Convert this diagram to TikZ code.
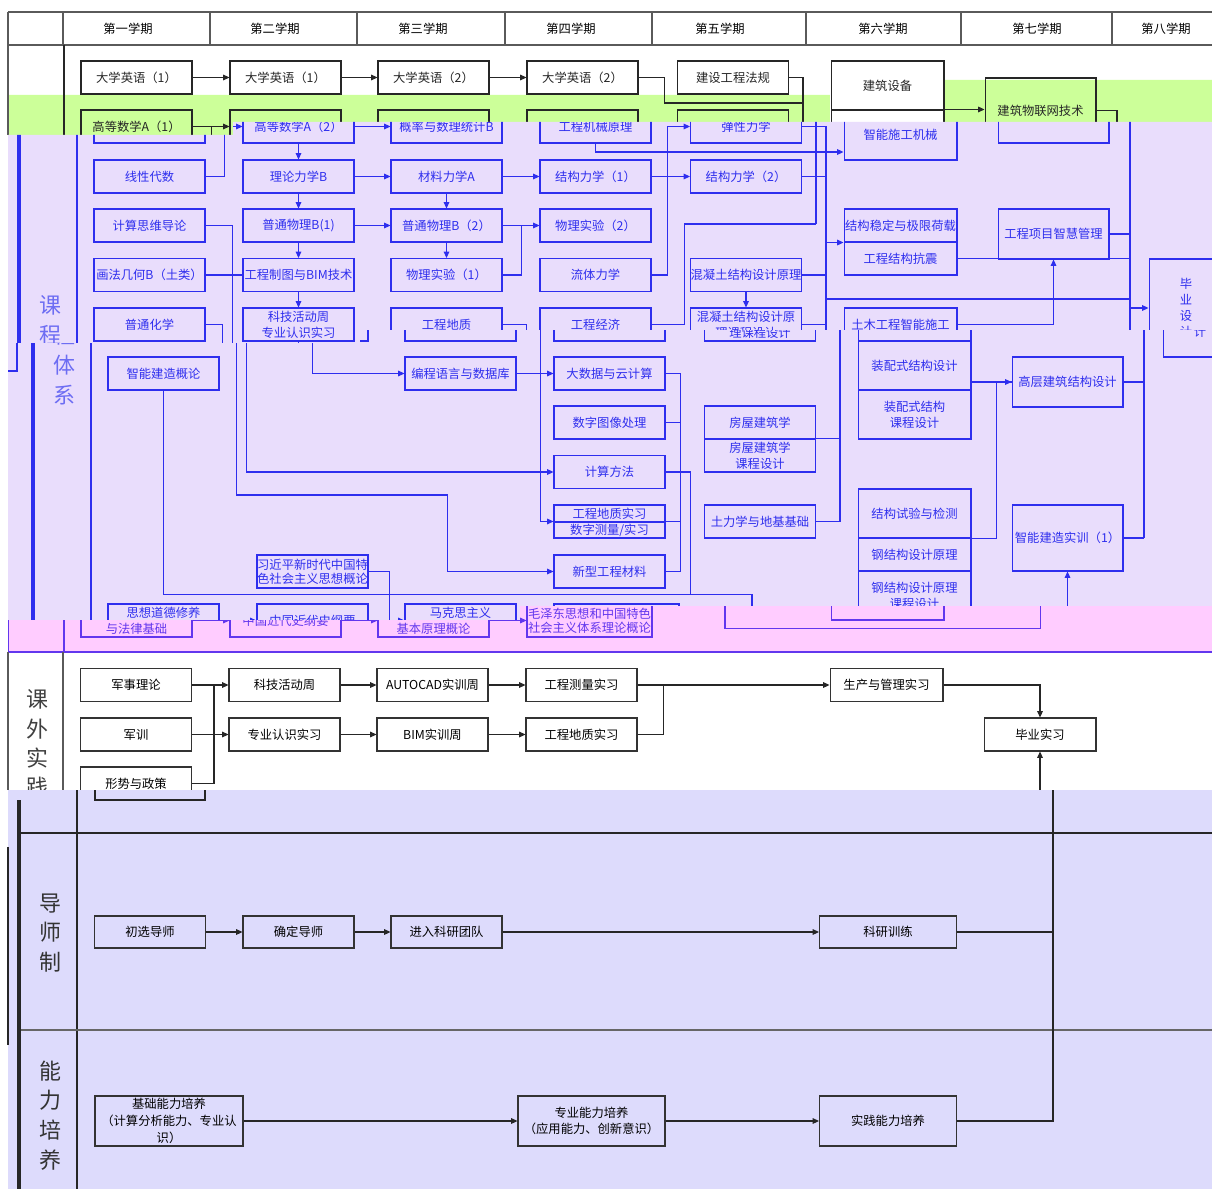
\documentclass[tikz,border=0pt]{standalone}
\usepackage{fontspec}
\setmainfont{Noto Sans CJK SC}
\usetikzlibrary{arrows.meta}
\definecolor{lavcolor}{HTML}{E9DDFC}
\definecolor{pinkcolor}{HTML}{FFCCFF}
\definecolor{greencolor}{HTML}{CCFF99}
\definecolor{botcolor}{HTML}{DDDBFC}
\definecolor{bluecolor}{HTML}{2E2EEE}
\definecolor{purplecolor}{HTML}{6236EE}
\definecolor{gridcolor}{HTML}{5A5A5A}
\colorlet{lnc}{black}
\newcommand{\bxf}{\fontsize{7}{9}\selectfont}
% text of a box only in the band where it can be seen
\def\rlo{0}\def\rhi{2000}
\newcommand{\tx}[2]{\ifdim#1pt<\rlo pt\def\txbody{}\else\ifdim#1pt>\rhi pt\def\txbody{}\else\def\txbody{#2}\fi\fi\txbody}

% the course network, drawn once per colour band
\newcommand{\coursenet}{%
  \draw[cline] (77,40) -- (77,660);
  \node[vlbl, text=lnc!70] (kc) at (50,350) {\tx{350}{课\\程\\体\\系}};
  % row 0
  \node[cbox] (eng1) at (149.5,77.5) {\tx{77.5}{大学英语（1）}};
  \node[cbox] (eng2) at (298.5,77.5) {\tx{77.5}{大学英语（1）}};
  \node[cbox] (eng3) at (446.5,77.5) {\tx{77.5}{大学英语（2）}};
  \node[cbox] (eng4) at (595.5,77.5) {\tx{77.5}{大学英语（2）}};
  \node[cbox] (law) at (746,77.5) {\tx{77.5}{建设工程法规}};
  \node[cbox, minimum width=2.26cm, minimum height=0.98cm] (equip) at (900.5,85.5) {\tx{85.5}{建筑设备}};
  \node[cbox, minimum width=2.26cm, minimum height=1cm] (mach) at (900.5,135) {\tx{135}{智能施工机械}};
  \node[cbox, minimum height=1.3cm] (iot) at (1053.5,110.5) {\tx{110.5}{建筑物联网技术}};
  % row 1
  \node[cbox] (math1) at (149.5,126.5) {\tx{118}{高等数学A（1）}};
  \node[cbox] (math2) at (298.5,126.5) {\tx{126.5}{高等数学A（2）}};
  \node[cbox] (prob) at (446.5,126.5) {\tx{126.5}{概率与数理统计B}};
  \node[cbox] (mech) at (595.5,126.5) {\tx{126.5}{工程机械原理}};
  \node[cbox] (elast) at (746,126.5) {\tx{126.5}{弹性力学}};
  % row 2
  \node[cbox] (linalg) at (149.5,176.5) {\tx{176.5}{线性代数}};
  \node[cbox] (theo) at (298.5,176.5) {\tx{176.5}{理论力学B}};
  \node[cbox] (matmech) at (446.5,176.5) {\tx{176.5}{材料力学A}};
  \node[cbox] (struct1) at (595.5,176.5) {\tx{176.5}{结构力学（1）}};
  \node[cbox] (struct2) at (746,176.5) {\tx{176.5}{结构力学（2）}};
  % row 3
  \node[cbox] (comp) at (149.5,225.5) {\tx{225.5}{计算思维导论}};
  \node[cbox] (phys1) at (298.5,225.5) {\tx{225.5}{普通物理B(1)}};
  \node[cbox] (phys2) at (446.5,225.5) {\tx{225.5}{普通物理B（2）}};
  \node[cbox] (lab2) at (595.5,225.5) {\tx{225.5}{物理实验（2）}};
  \node[cbox, minimum width=2.26cm] (stab) at (900.5,225.5) {\tx{225.5}{结构稳定与极限荷载}};
  \node[cbox, minimum width=2.26cm] (seis) at (900.5,258.5) {\tx{258.5}{工程结构抗震}};
  \node[cbox, minimum height=1cm] (pm) at (1053.5,234) {\tx{234}{工程项目智慧管理}};
  % row 4
  \node[cbox] (geom) at (149.5,275) {\tx{275}{画法几何B（土类）}};
  \node[cbox] (cad) at (298.5,275) {\tx{275}{工程制图与BIM技术}};
  \node[cbox] (lab1) at (446.5,275) {\tx{275}{物理实验（1）}};
  \node[cbox] (fluid) at (595.5,275) {\tx{275}{流体力学}};
  \node[cbox] (rc) at (746,275) {\tx{275}{混凝土结构设计原理}};
  \node[cbox, minimum width=1.48cm, minimum height=1.96cm] (grad) at (1186,308) {\tx{330}{毕\\业\\设\\计}};
  % row 5
  \node[cbox] (chem) at (149.5,324.5) {\tx{324.5}{普通化学}};
  \node[cbox] (week) at (298.5,324.5) {\tx{324.5}{科技活动周\\专业认识实习}};
  \node[cbox] (geo) at (446.5,324.5) {\tx{324.5}{工程地质}};
  \node[cbox] (econ) at (595.5,324.5) {\tx{324.5}{工程经济}};
  \node[cbox] (rcd) at (746,324.5) {\tx{330}{混凝土结构设计原\\理课程设计}};
  \node[cbox, minimum width=2.26cm] (smart) at (900.5,324.5) {\tx{324.5}{土木工程智能施工}};
  \node[cbox, minimum width=2.26cm, minimum height=0.98cm] (prefab) at (900.5,365.5) {\tx{365.5}{装配式结构设计}};
  \node[cbox, minimum width=2.26cm, minimum height=0.98cm] (prefabd) at (900.5,414.5) {\tx{414.5}{装配式结构\\课程设计}};
  % rows 6--9
  \node[cbox] (intro) at (149.5,373.5) {\tx{373.5}{智能建造概论}};
  \node[cbox] (prog) at (446.5,373.5) {\tx{373.5}{编程语言与数据库}};
  \node[cbox] (bigdata) at (595.5,373.5) {\tx{373.5}{大数据与云计算}};
  \node[cbox, minimum height=1cm] (high) at (1053.5,382) {\tx{382}{高层建筑结构设计}};
  \node[cbox] (img) at (595.5,422.5) {\tx{422.5}{数字图像处理}};
  \node[cbox] (house) at (746,422.5) {\tx{422.5}{房屋建筑学}};
  \node[cbox] (housed) at (746,455.5) {\tx{455.5}{房屋建筑学\\课程设计}};
  \node[cbox] (cm) at (595.5,472) {\tx{472}{计算方法}};
  \node[cbox, minimum height=0.34cm] (geoprac) at (595.5,513.5) {\tx{513.5}{工程地质实习}};
  \node[cbox, minimum height=0.32cm] (survey) at (595.5,530) {\tx{530}{数字测量/实习}};
  \node[cbox] (soil) at (746,521.5) {\tx{521.5}{土力学与地基基础}};
  \node[cbox, minimum width=2.26cm, minimum height=0.98cm] (test) at (900.5,513.5) {\tx{513.5}{结构试验与检测}};
  \node[cbox, minimum width=2.26cm] (steel) at (900.5,554.5) {\tx{554.5}{钢结构设计原理}};
  \node[cbox, minimum width=2.26cm, minimum height=0.98cm] (steeld) at (900.5,595.5) {\tx{595.5}{钢结构设计原理\\课程设计}};
  \node[cbox, minimum height=1.32cm] (train) at (1053.5,538) {\tx{538}{智能建造实训（1）}};
  % rows 10--11
  \node[cbox, font=\fontsize{7}{8}\selectfont] (xi) at (298.5,571.5) {\tx{571.5}{习近平新时代中国特\\色社会主义思想概论}};
  \node[cbox] (newmat) at (595.5,571.5) {\tx{571.5}{新型工程材料}};
  \node[cbox] (moral) at (149.5,620.5) {\tx{620.5}{思想道德修养\\与法律基础}};
  \node[cbox] (hist) at (298.5,620.5) {\tx{620.5}{中国近代史纲要}};
  \node[cbox] (marx) at (446.5,620.5) {\tx{620.5}{马克思主义\\基本原理概论}};
  \node[cbox, minimum width=2.5cm, font=\fontsize{7}{8}\selectfont] (mao) at (602.5,620.5) {\tx{625}{毛泽东思想和中国特色\\社会主义体系理论概论}};
  % links
  \draw[carr] (eng1) -- (eng2);
  \draw[carr] (eng2) -- (eng3);
  \draw[carr] (eng3) -- (eng4);
  \coordinate (lawbus) at (816,224);
  \draw[cline] (eng4.east) -- ++(26,0) -- ++(0,25.5) -- ++(139,0);
  \draw[cline] (law.east) -| (lawbus);
  \draw[cline] (econ.east) -- ++(33,0) |- (lawbus);
  \draw[carr] (mach.north east) -- (mach.north east -| iot.west);
  \draw[carr] (math1) -- (math2);
  \draw[carr] (math2) -- (prob);
  \draw[cline] (linalg.east) -- ++(19,0) -- ++(0,-50);
  \draw[carr] (math2) -- (theo);
  \draw[carr] (theo) -- (phys1);
  \draw[carr] (phys1) -- (cad);
  \draw[carr] (cad) -- (week);
  \draw[carr] (theo) -- (matmech);
  \draw[carr] (matmech) -- (struct1);
  \draw[carr] (struct1) -- (struct2);
  \draw[carr] (matmech) -- (phys2);
  \draw[carr] (phys1) -- (phys2);
  \draw[carr] (phys2) -- (lab1);
  \draw[carr] (phys2) -- (lab2);
  \draw[cline] (lab1.east) -- ++(19,0) -- ++(0,-49.5);
  \draw[cline] (geom) -- (cad);
  \draw[carr] (comp.east) -- ++(27,0) |- (cm.west);
  \draw[carr] (chem.east) -- ++(17,0) -- ++(0,170.5) -- ++(211,0) |- (newmat.west);
  \draw[carr] (week.south) |- (prog.west);
  \draw[carr] (prog) -- (bigdata);
  \draw[carr] (mech.south) |- ([yshift=-0.34cm]mach.west);
  \draw[carr] (fluid.east) -- ++(16,0) |- (elast.west);
  \draw[carr] (geo.east) -- ++(24,0) |- (survey.north west);
  \draw[cline] (survey.north east) -- ++(15,0);
  \draw[cline] (bigdata.east) -- ++(15,0) |- (newmat.east);
  \draw[cline] (img.east) -- ++(15,0);
  \draw[cline] (cm.east) -- ++(25,0) -- ++(0,122);
  \draw[carr] (intro.south) -- ++(0,204) -- ++(588.5,0) -- ++(0,34) -| (train.south);
  \draw[cline] (xi.east) -- ++(21,0) -- ++(0,49);
  \draw[carr] (moral) -- (hist);
  \draw[carr] (hist) -- (marx);
  \draw[carr] (marx) -- (mao);
  \draw[carr] (rc) -- (rcd);
  % right-hand buses
  \coordinate (rbusT) at (826,126.5);
  \coordinate (rbusB) at (826,521.5);
  \coordinate (gbusB) at (1130,538);
  \draw[cline] (elast.east) -- (rbusT) -- (rbusB) -- (soil.east);
  \draw[cline] (struct2.east) -- (struct2.east -| rbusT);
  \draw[cline] (rc.east) -- (rc.east -| rbusT);
  \draw[cline] (rcd.east) -- (rcd.east -| rbusT);
  \draw[cline] (housed.north east) -- (housed.north east -| rbusT);
  \draw[carr] (stab.south west -| rbusT) -- (stab.south west);
  \draw[cline] (826,299) -- (1130,299);
  \draw[cline] (iot.east) -| (gbusB);
  \draw[cline] (pm.east) -- (pm.east -| gbusB);
  \draw[cline] (seis.east) -- (seis.east -| gbusB);
  \draw[cline] (high.east) -- (high.east -| gbusB);
  \draw[cline] (train.east) -- (gbusB);
  \draw[carr] (grad.west -| gbusB) -- (grad.west);
  \draw[carr] (smart.east) -| (pm.south);
  \draw[carr] (high.west -| prefab.east) -- (high.west);
  \draw[cline] (test.south east) -- ++(25,0) |- (high.west);
}

\begin{document}
\begin{tikzpicture}[x=0.02cm, y=-0.02cm,
  cbox/.style={draw=lnc, text=lnc, font=\bxf, align=center, inner sep=0pt,
               minimum width=2.22cm, minimum height=0.66cm, line width=0.6pt},
  cline/.style={draw=lnc, line width=0.6pt},
  carr/.style={cline, -{Triangle[length=3.6pt,width=3.2pt]}},
  kbox/.style={draw=black!80, font=\bxf, align=center, inner sep=0pt,
               minimum width=2.22cm, minimum height=0.66cm, line width=0.6pt},
  kline/.style={draw=black!85, line width=0.6pt},
  karr/.style={kline, -{Triangle[length=3.6pt,width=3.2pt]}},
  vlbl/.style={font=\fontsize{12.5}{17}\selectfont, align=center, inner sep=0pt},
  gridln/.style={draw=gridcolor, line width=0.6pt},
]
  \useasboundingbox (0,0) rectangle (1212,1189);
  \fill[white] (0,0) rectangle (1212,1189);

  % green band
  \fill[greencolor] (8,95) -- (900,95) -- (900,80) -- (1212,80) -- (1212,135) -- (8,135) -- cycle;

  % semester header
  \draw[gridln] (8,12) -- (1212,12) (8,45) -- (1212,45);
  \foreach \x in {8,63,210,357,505,652,806,961,1112}
    \draw[gridln] (\x,12) -- (\x,45);
  \foreach \x/\t [count=\i] in {128/第一学期, 275/第二学期, 423/第三学期, 571/第四学期,
                                720/第五学期, 883/第六学期, 1037/第七学期, 1166/第八学期}
    \node[font=\bxf, inner sep=0pt] (sem\i) at (\x,28.5) {\t};

  % black band (top)
  \begin{scope}
    \clip (8,45) -- (1212,45) -- (1212,122) -- (233,122) -- (233,135) -- (8,135) -- cycle;
    \fill[white] (830,61) rectangle (943,122);
    \colorlet{lnc}{black!85}
    \def\rlo{0}\def\rhi{120}
    \begin{scope}[shift={(-13,0)}]
      \coursenet
    \end{scope}
  \end{scope}
  \draw[gridln] (8,45) -- (8,135);

  % blue band 1
  \begin{scope}
    \clip (8,135) -- (233,135) -- (233,122) -- (1212,122) -- (1212,330) -- (360,330) -- (360,343) -- (8,343) -- cycle;
    \fill[lavcolor] (0,100) rectangle (1212,700);
    \fill[bluecolor] (17,100) rectangle (21,400);
    \colorlet{lnc}{bluecolor}
    \def\rlo{122}\def\rhi{351}
    \coursenet
  \end{scope}

  % blue band 2
  \begin{scope}
    \clip (8,343) -- (360,343) -- (360,330) -- (1212,330) -- (1212,606) -- (520,606) -- (520,620) -- (8,620) -- cycle;
    \fill[lavcolor] (0,300) rectangle (1212,700);
    \fill[bluecolor] (31,300) rectangle (35,700);
    \draw[bluecolor, line width=0.6pt] (8,371) -| (17,330);
    \colorlet{lnc}{bluecolor}
    \def\rlo{326}\def\rhi{622}
    \begin{scope}[shift={(14,0)}]
      \coursenet
    \end{scope}
  \end{scope}

  % pink band
  \begin{scope}
    \clip (8,620) -- (520,620) -- (520,606) -- (1212,606) -- (1212,652) -- (8,652) -- cycle;
    \fill[pinkcolor] (0,590) rectangle (1212,660);
    \draw[purplecolor, line width=0.6pt] (8,590) -- (8,660);
    \colorlet{lnc}{purplecolor}
    \def\rlo{598}\def\rhi{700}
    \begin{scope}[shift={(-13,0)}]
      \coursenet
    \end{scope}
  \end{scope}
  \draw[purplecolor, line width=0.8pt] (8,652) -- (1212,652);

  % practice
  \draw[gridln] (8,652) -- (8,790) (63,652) -- (63,790);
  \node[vlbl, text=black!75, font=\fontsize{12.5}{16.7}\selectfont] (kw) at (37,743.5) {课\\外\\实\\践};
  \node[kbox] (mil) at (136,685) {军事理论};
  \node[kbox] (drill) at (136,734.5) {军训};
  \node[kbox] (policy) at (136,783.5) {形势与政策};
  \node[kbox] (techwk) at (284.5,685) {科技活动周};
  \node[kbox] (visit) at (284.5,734.5) {专业认识实习};
  \node[kbox] (acad) at (432.5,685) {AUTOCAD实训周};
  \node[kbox] (bimwk) at (432.5,734.5) {BIM实训周};
  \node[kbox] (survp) at (581.5,685) {工程测量实习};
  \node[kbox] (geop) at (581.5,734.5) {工程地质实习};
  \node[kbox, minimum width=2.26cm] (prod) at (886.5,685) {生产与管理实习};
  \node[kbox, minimum width=2.24cm] (intern) at (1040,734.5) {毕业实习};
  \draw[karr] (mil) -- (techwk);
  \draw[kline] (policy.east) -- ++(22,0) -- ++(0,-98.5);
  \draw[karr] (drill) -- (visit);
  \draw[karr] (techwk) -- (acad);
  \draw[karr] (acad) -- (survp);
  \draw[karr] (visit) -- (bimwk);
  \draw[karr] (bimwk) -- (geop);
  \draw[karr] (survp) -- (prod);
  \draw[kline] (geop.east) -- ++(26,0) -- ++(0,-49.5);
  \draw[karr] (prod.east) -| (intern.north);
  \coordinate (pup) at (1040,790);
  \draw[karr] (pup) -- (intern.south);

  % mentor and ability bands
  \fill[botcolor] (8,790) rectangle (1212,1189);
  \draw[kline] (95,790) |- (205,800) -- (205,790);
  \fill[black!85] (17,800) rectangle (21,1189);
  \draw[kline] (77,790) -- (77,1189);
  \draw[kline] (21,833) -- (1212,833);
  \draw[kline, draw=black!60] (21,1030) -- (1212,1030);
  \draw[kline] (8,847) -- (8,1045);
  \node[vlbl, text=black!80] (mentorlbl) at (50,933) {导\\师\\制};
  \node[vlbl, text=black!80] (abilitylbl) at (50,1115.5) {能\\力\\培\\养};
  \node[kbox, minimum height=0.64cm] (pick) at (150,932) {初选导师};
  \node[kbox, minimum height=0.64cm] (confirm) at (298.5,932) {确定导师};
  \node[kbox, minimum height=0.64cm] (team) at (446.5,932) {进入科研团队};
  \node[kbox, minimum height=0.64cm, minimum width=2.74cm] (research) at (888,932) {科研训练};
  \node[kbox, minimum width=2.96cm, minimum height=1cm, font=\fontsize{7}{9.6}\selectfont] (basic) at (169,1121) {基础能力培养\\（计算分析能力、专业认\\识）};
  \node[kbox, minimum width=2.94cm, minimum height=1cm] (prof) at (591.5,1121) {专业能力培养\\（应用能力、创新意识）};
  \node[kbox, minimum width=2.74cm, minimum height=1cm] (prac) at (888,1121) {实践能力培养};
  \draw[karr] (pick) -- (confirm);
  \draw[karr] (confirm) -- (team);
  \draw[karr] (team) -- (research);
  \draw[kline] (research.east) -- ++(96,0);
  \draw[karr] (basic) -- (prof);
  \draw[karr] (prof) -- (prac);
  \coordinate (bup) at (1053,790);
  \draw[kline] (prac.east) -| (bup);
\end{tikzpicture}
\end{document}
